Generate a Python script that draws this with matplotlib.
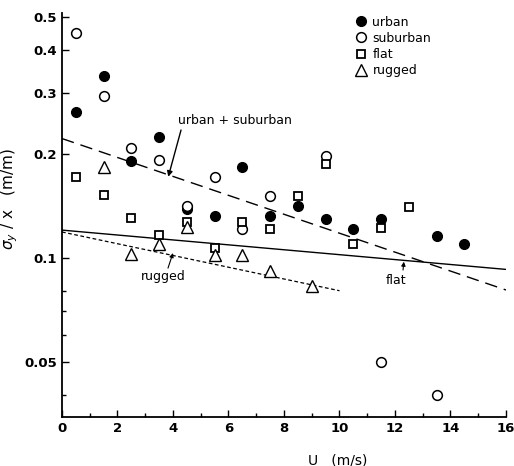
import numpy as np
import matplotlib
matplotlib.use("Agg")
import matplotlib.pyplot as plt
from matplotlib.ticker import FixedLocator, NullFormatter

# data (U in m/s, sigma_y/x in m/m)
urban_u = [0.5, 1.5, 2.5, 3.5, 4.5, 5.5, 6.5, 7.5, 8.5, 9.5, 10.5, 11.5, 13.5, 14.5]
urban_s = [0.265, 0.336, 0.191, 0.224, 0.139, 0.132, 0.183, 0.132, 0.1415, 0.130, 0.121, 0.130, 0.116, 0.110]

suburban_u = [0.5, 1.5, 2.5, 3.5, 4.5, 5.5, 6.5, 7.5, 9.5, 11.5, 13.5]
suburban_s = [0.45, 0.295, 0.208, 0.192, 0.142, 0.172, 0.121, 0.151, 0.197, 0.050, 0.0402]

flat_u = [0.5, 1.5, 2.5, 3.5, 4.5, 5.5, 6.5, 7.5, 8.5, 9.5, 10.5, 11.5, 12.5]
flat_s = [0.172, 0.152, 0.131, 0.117, 0.127, 0.107, 0.127, 0.121, 0.151, 0.187, 0.110, 0.122, 0.141]

rugged_u = [1.5, 2.5, 3.5, 4.5, 5.5, 6.5, 7.5, 9.0]
rugged_s = [0.184, 0.103, 0.110, 0.123, 0.102, 0.102, 0.0917, 0.083]

# fitted lines (end points)
fit_us_u = [0, 16]
fit_us_s = [0.222, 0.0808]
fit_flat_u = [0, 16]
fit_flat_s = [0.1205, 0.0927]
fit_rug_u = [0, 10]
fit_rug_s = [0.119, 0.0804]

yticks = [0.05, 0.1, 0.2, 0.3, 0.4, 0.5]
ytick_labels = ["0.05", "0.1", "0.2", "0.3", "0.4", "0.5"]
yminor = [0.04, 0.06, 0.07, 0.08]

fig = plt.figure(figsize=(5.14, 4.66), dpi=100)
ax = fig.add_axes([0.1206, 0.105, 0.8638, 0.867])

ax.plot(fit_us_u, fit_us_s, color="black", lw=1.0, dashes=(9, 5))
ax.plot(fit_flat_u, fit_flat_s, color="black", lw=1.0)
ax.plot(fit_rug_u, fit_rug_s, color="black", lw=0.9, dashes=(3, 2))

ax.plot(urban_u, urban_s, "o", ms=7, mfc="black", mec="black", ls="none", label="urban")
ax.plot(suburban_u, suburban_s, "o", ms=7, mfc="white", mec="black", mew=1.1, ls="none", label="suburban")
ax.plot(flat_u, flat_s, "s", ms=5.5, mfc="white", mec="black", mew=1.3, ls="none", label="flat")
ax.plot(rugged_u, rugged_s, "^", ms=8, mfc="white", mec="black", mew=1.0, ls="none", label="rugged")

ax.set_yscale("log")
ax.set_xlim(0, 16)
ax.set_ylim(0.0346, 0.513)
ax.yaxis.set_major_locator(FixedLocator(yticks))
ax.set_yticklabels(ytick_labels)
ax.yaxis.set_minor_locator(FixedLocator(yminor))
ax.yaxis.set_minor_formatter(NullFormatter())
ax.set_xticks(range(0, 17, 2))
ax.set_xticks(range(1, 16, 2), minor=True)

for s in ["top", "right"]:
    ax.spines[s].set_visible(False)
ax.spines["left"].set_linewidth(1.3)
ax.spines["bottom"].set_linewidth(1.3)
ax.tick_params(which="both", direction="in", width=1.0)
ax.tick_params(which="major", length=5, labelsize=9.5)
ax.tick_params(which="minor", length=3)
for lab in ax.get_xticklabels() + ax.get_yticklabels():
    lab.set_fontweight("bold")

ax.set_xlabel("U   (m/s)", fontsize=10)
ax.xaxis.set_label_coords(0.62, -0.09)
ax.set_ylabel(r"$\sigma_y$ / x   (m/m)", fontsize=11)
ax.yaxis.set_label_coords(-0.095, 0.54)

# labels of the fitted lines, with small arrows
ax.text(6.23, 0.251, "urban + suburban", ha="center", va="center", fontsize=9)
ax.annotate("", xy=(3.83, 0.172), xytext=(4.29, 0.235),
            arrowprops=dict(arrowstyle="-|>", color="black", lw=1.0, shrinkA=0, shrinkB=0, mutation_scale=8))
ax.text(3.65, 0.0885, "rugged", ha="center", va="center", fontsize=9)
ax.annotate("", xy=(4.0, 0.1034), xytext=(3.82, 0.0935),
            arrowprops=dict(arrowstyle="-|>", color="black", lw=0.8, shrinkA=0, shrinkB=0, mutation_scale=6))
ax.text(12.04, 0.0858, "flat", ha="center", va="center", fontsize=9)
ax.annotate("", xy=(12.32, 0.0976), xytext=(12.29, 0.0923),
            arrowprops=dict(arrowstyle="-|>", color="black", lw=0.8, shrinkA=0, shrinkB=0, mutation_scale=6))

ax.legend(loc="upper left", bbox_to_anchor=(0.64, 1.012), frameon=False, fontsize=9,
          handletextpad=0.3, labelspacing=0.25, borderaxespad=0.2, handlelength=1.2)

fig.savefig("out.png", dpi=100)
